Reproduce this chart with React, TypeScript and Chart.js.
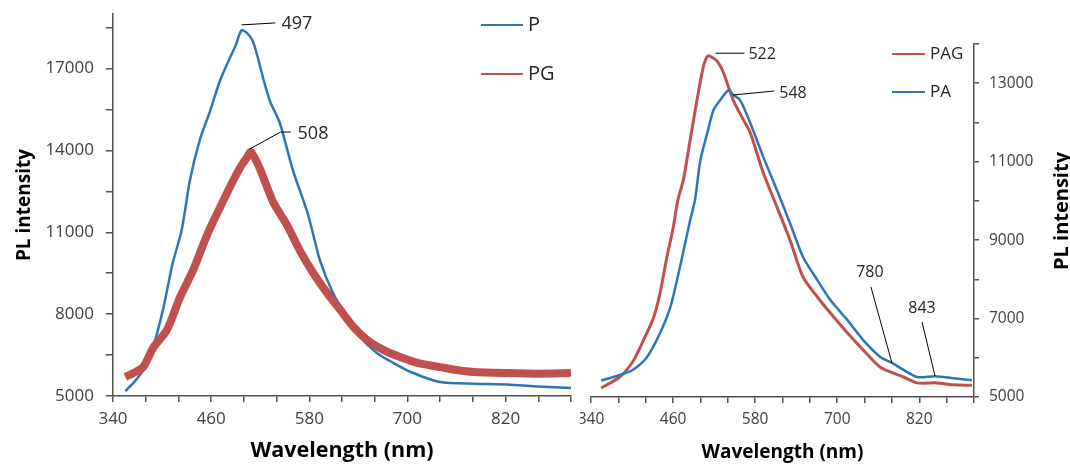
import React, { useEffect, useRef } from 'react';
import { Chart, registerables } from 'chart.js';

Chart.register(...registerables);

const FONT = '"Open Sans", "Noto Sans", sans-serif';

// ---------- data ----------
const leftP_nm = [355, 365, 377, 389, 401, 413, 424, 434, 446, 459, 471, 483, 490, 497, 504, 511, 518, 524, 532, 544, 560, 578, 593, 609, 626, 642, 663, 683, 704, 740, 781, 822, 860, 900];
const leftP_val = [5180, 5480, 5950, 6790, 8150, 9870, 11080, 12900, 14370, 15470, 16570, 17400, 17850, 18400, 18300, 18000, 17300, 16600, 15800, 15000, 13270, 11700, 9980, 8770, 7890, 7160, 6570, 6210, 5880, 5510, 5450, 5420, 5350, 5290];

const leftPG_nm = [355, 365, 377, 389, 406, 422, 438, 455, 471, 487, 497, 504, 508, 512, 520, 536, 553, 569, 585, 602, 618, 634, 651, 671, 691, 712, 740, 760, 781, 822, 860, 900];
const leftPG_val = [5700, 5840, 6060, 6760, 7420, 8620, 9610, 10900, 11920, 12900, 13450, 13750, 13950, 13800, 13300, 12100, 11250, 10300, 9500, 8770, 8150, 7530, 7050, 6680, 6430, 6210, 6060, 5950, 5880, 5840, 5820, 5840];

const rightPAG_nm = [355, 382, 401, 416, 431, 441, 451, 460, 467, 475, 485, 495, 504, 511, 518, 525, 533, 548, 563, 573, 592, 612, 631, 650, 671, 690, 715, 738, 763, 797, 817, 846, 870, 897];
const rightPAG_val = [5230, 5510, 5900, 6420, 7000, 7650, 8570, 9300, 10020, 10530, 11550, 12570, 13400, 13700, 13650, 13550, 13300, 12570, 12060, 11730, 10710, 9840, 9000, 8060, 7550, 7140, 6630, 6200, 5760, 5510, 5360, 5360, 5310, 5300];

const rightPA_nm = [355, 382, 401, 422, 441, 456, 470, 485, 492, 500, 510, 519, 529, 541, 548, 558, 573, 592, 612, 631, 650, 671, 690, 715, 738, 763, 780, 797, 817, 843, 870, 897];
const rightPA_val = [5420, 5560, 5690, 6020, 6630, 7290, 8310, 9510, 10020, 11040, 11730, 12310, 12570, 12820, 12700, 12570, 11980, 11115, 10270, 9430, 8570, 7980, 7470, 6960, 6450, 6020, 5870, 5690, 5510, 5530, 5480, 5430];

// peak / feature labels
const leftMarkLabels = ['497', '508'];
const leftMarkNm = [497, 507];
const leftMarkVal = [18600, 14050];
const rightMarkLabels = ['522', '548', '780', '843'];
const rightMarkNm = [522, 548, 780, 843];
const rightMarkVal = [13765, 12700, 5870, 5535];

// ticks
const xTickValues = [340, 380, 420, 460, 500, 540, 580, 620, 660, 700, 740, 780, 820, 860, 900];
const xTickLabels = ['340', '460', '580', '700', '820'];
const leftYTickValues = [5000, 6500, 8000, 9500, 11000, 12500, 14000, 15500, 17000, 18500];
const leftYTickLabels = ['5000', '8000', '11000', '14000', '17000'];
const rightYTickValues = [5000, 6000, 7000, 8000, 9000, 10000, 11000, 12000, 13000, 14000];
const rightYTickLabels = ['5000', '7000', '9000', '11000', '13000'];

const leftSeriesNames = ['P', 'PG'];
const rightSeriesNames = ['PAG', 'PA'];

const BLUE = '#2E75B6';
const RED = '#C0504D';
const AXIS = '#505050';
const TICKTXT = '#404040';

function pts(xs: number[], ys: number[]) {
  return xs.map((x, i) => ({ x, y: ys[i] }));
}

function makeX(fontSize: number, titleSize: number, height: number) {
  return {
    type: 'linear',
    min: 340,
    max: 900,
    afterBuildTicks: (s: any) => {
      s.ticks = xTickValues.map((v) => ({ value: v }));
    },
    afterFit: (s: any) => {
      s.height = height;
      s.paddingLeft = 0;
      s.paddingRight = 0;
    },
    ticks: {
      autoSkip: false,
      maxRotation: 0,
      minRotation: 0,
      padding: 7,
      color: TICKTXT,
      font: { family: FONT, size: fontSize },
      callback: (v: any) => (xTickLabels.includes(String(v)) ? String(v) : ''),
    },
    grid: { drawOnChartArea: false, drawTicks: true, tickLength: 6, color: AXIS, lineWidth: 1.5 },
    border: { display: true, color: AXIS, width: 1.5 },
    title: {
      display: true,
      text: 'Wavelength (nm)',
      color: '#000',
      font: { family: FONT, size: titleSize, weight: 'bold' },
      padding: { top: 0, bottom: 0 },
    },
  };
}

function drawText(ctx: CanvasRenderingContext2D, text: string, x: number, y: number, size: number, align: CanvasTextAlign = 'left', weight = 'normal', color = '#262626') {
  ctx.save();
  ctx.font = `${weight} ${size}px ${FONT}`;
  ctx.fillStyle = color;
  ctx.textAlign = align;
  ctx.textBaseline = 'middle';
  ctx.fillText(text, x, y);
  ctx.restore();
}

function drawLine(ctx: CanvasRenderingContext2D, points: number[][], color = '#000', width = 1) {
  ctx.save();
  ctx.strokeStyle = color;
  ctx.lineWidth = width;
  ctx.beginPath();
  points.forEach(([x, y], i) => (i === 0 ? ctx.moveTo(x, y) : ctx.lineTo(x, y)));
  ctx.stroke();
  ctx.restore();
}

const leftDecor = {
  id: 'leftDecor',
  afterDatasetsDraw(chart: any) {
    const ctx = chart.ctx;
    const xs = chart.scales.x;
    const ys = chart.scales.y;
    // legend
    const colors = [BLUE, RED];
    const legY = [25, 74];
    leftSeriesNames.forEach((n, i) => {
      drawLine(ctx, [[481, legY[i]], [523, legY[i]]], colors[i], 2);
      drawText(ctx, n, 528, legY[i], 20, 'left', 'normal', '#262626');
    });
    // peak labels
    const a0x = xs.getPixelForValue(leftMarkNm[0]);
    const a0y = ys.getPixelForValue(leftMarkVal[0]);
    drawLine(ctx, [[a0x, a0y], [a0x + 34, a0y - 2]]);
    drawText(ctx, leftMarkLabels[0], a0x + 40, a0y - 1, 18);
    const a1x = xs.getPixelForValue(leftMarkNm[1]);
    const a1y = ys.getPixelForValue(leftMarkVal[1]);
    drawLine(ctx, [[a1x, a1y], [a1x + 31, a1y - 17], [a1x + 41, a1y - 17]]);
    drawText(ctx, leftMarkLabels[1], a1x + 48, a1y - 15, 18);
  },
};

const rightDecor = {
  id: 'rightDecor',
  afterDatasetsDraw(chart: any) {
    const ctx = chart.ctx;
    const xs = chart.scales.x;
    const ys = chart.scales.y;
    const colors = [RED, BLUE];
    const legY = [54, 92];
    rightSeriesNames.forEach((n, i) => {
      drawLine(ctx, [[312, legY[i]], [345, legY[i]]], colors[i], 2);
      drawText(ctx, n, 350, legY[i], 17, 'left', 'normal', '#262626');
    });
    const P = rightMarkNm.map((nm, i) => [xs.getPixelForValue(nm), ys.getPixelForValue(rightMarkVal[i])]);
    // 522
    drawLine(ctx, [[P[0][0], P[0][1]], [P[0][0] + 29, P[0][1]]]);
    drawText(ctx, rightMarkLabels[0], P[0][0] + 33, P[0][1] + 1, 16);
    // 548
    drawLine(ctx, [[P[1][0], P[1][1]], [P[1][0] + 41, P[1][1] - 4]]);
    drawText(ctx, rightMarkLabels[1], P[1][0] + 46, P[1][1] - 2, 16);
    // 780
    drawLine(ctx, [[P[2][0], P[2][1]], [P[2][0] - 21, P[2][1] - 76]]);
    drawText(ctx, rightMarkLabels[2], P[2][0] - 22, P[2][1] - 90, 16, 'center');
    // 843
    drawLine(ctx, [[P[3][0], P[3][1]], [P[3][0] - 13, P[3][1] - 54]]);
    drawText(ctx, rightMarkLabels[3], P[3][0] - 13, P[3][1] - 68, 16, 'center');
  },
  afterDraw(chart: any) {
    const ctx = chart.ctx;
    ctx.save();
    ctx.translate(482, 211);
    ctx.rotate(-Math.PI / 2);
    ctx.font = `bold 20px ${FONT}`;
    ctx.fillStyle = '#000';
    ctx.textAlign = 'center';
    ctx.textBaseline = 'middle';
    ctx.fillText('PL intensity', 0, 0);
    ctx.restore();
  },
};

export default function App() {
  const leftRef = useRef<HTMLCanvasElement>(null);
  const rightRef = useRef<HTMLCanvasElement>(null);

  useEffect(() => {
    Chart.defaults.font.family = FONT;
    const left = new Chart(leftRef.current as HTMLCanvasElement, {
      type: 'line',
      data: {
        datasets: [
          {
            label: 'P',
            data: pts(leftP_nm, leftP_val),
            borderColor: BLUE,
            borderWidth: 2.5,
            pointRadius: 0,
            tension: 0.25,
            order: 1,
          },
          {
            label: 'PG',
            data: pts(leftPG_nm, leftPG_val),
            borderColor: RED,
            borderWidth: 8,
            pointRadius: 0,
            tension: 0.25,
            order: 0,
          },
        ],
      },
      options: {
        animation: false,
        responsive: false,
        maintainAspectRatio: false,
        layout: { padding: { top: 14, right: 9, left: 0, bottom: 0 } },
        plugins: { legend: { display: false }, tooltip: { enabled: false } },
        scales: {
          x: makeX(17, 21.5, 68) as any,
          y: {
            type: 'linear',
            min: 5000,
            max: 19000,
            afterBuildTicks: (s: any) => {
              s.ticks = leftYTickValues.map((v) => ({ value: v }));
            },
            afterFit: (s: any) => {
              s.width = 113;
              s.paddingTop = 0;
              s.paddingBottom = 0;
            },
            ticks: {
              padding: 12,
              color: TICKTXT,
              font: { family: FONT, size: 17 },
              callback: (v: any) => (leftYTickLabels.includes(String(v)) ? String(v) : ''),
            },
            grid: { drawOnChartArea: false, drawTicks: true, tickLength: 7, color: AXIS, lineWidth: 1.5 },
            border: { display: true, color: AXIS, width: 1.5 },
            title: {
              display: true,
              text: 'PL intensity',
              color: '#000',
              font: { family: FONT, size: 19, weight: 'bold' },
              padding: { top: 13, bottom: 0 },
            },
          },
        },
      },
      plugins: [leftDecor],
    } as any);

    const right = new Chart(rightRef.current as HTMLCanvasElement, {
      type: 'line',
      data: {
        datasets: [
          {
            label: 'PAG',
            data: pts(rightPAG_nm, rightPAG_val),
            borderColor: RED,
            borderWidth: 3,
            pointRadius: 0,
            tension: 0.25,
            order: 1,
          },
          {
            label: 'PA',
            data: pts(rightPA_nm, rightPA_val),
            borderColor: BLUE,
            borderWidth: 2.5,
            pointRadius: 0,
            tension: 0.25,
            order: 0,
          },
        ],
      },
      options: {
        animation: false,
        responsive: false,
        maintainAspectRatio: false,
        layout: { padding: { top: 44, right: 0, left: 11, bottom: 0 } },
        plugins: { legend: { display: false }, tooltip: { enabled: false } },
        scales: {
          x: makeX(15.5, 19, 67) as any,
          y: {
            type: 'linear',
            position: 'right',
            min: 5000,
            max: 14000,
            afterBuildTicks: (s: any) => {
              s.ticks = rightYTickValues.map((v) => ({ value: v }));
            },
            afterFit: (s: any) => {
              s.width = 96;
              s.paddingTop = 0;
              s.paddingBottom = 0;
            },
            ticks: {
              padding: 10,
              color: TICKTXT,
              font: { family: FONT, size: 15.5 },
              callback: (v: any) => (rightYTickLabels.includes(String(v)) ? String(v) : ''),
            },
            grid: { drawOnChartArea: false, drawTicks: true, tickLength: 5, color: AXIS, lineWidth: 1.5 },
            border: { display: true, color: AXIS, width: 1.5 },
          },
        },
      },
      plugins: [rightDecor],
    } as any);

    return () => {
      left.destroy();
      right.destroy();
    };
  }, []);

  return (
    <div style={{ position: 'fixed', left: 0, top: 0, width: 1070, height: 464, background: '#fff', overflow: 'hidden' }}>
      <canvas ref={leftRef} width={580} height={464} style={{ position: 'absolute', left: 0, top: 0, width: 580, height: 464 }} />
      <canvas ref={rightRef} width={490} height={464} style={{ position: 'absolute', left: 580, top: 0, width: 490, height: 464 }} />
    </div>
  );
}
